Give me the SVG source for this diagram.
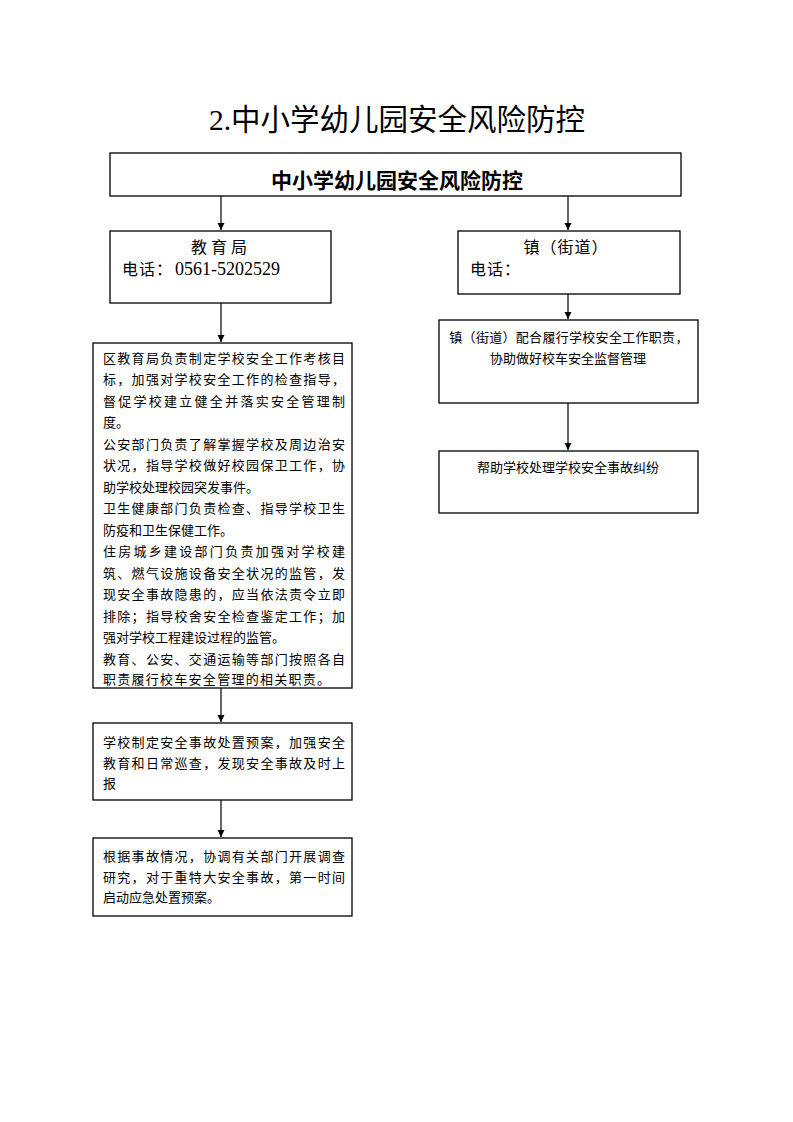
<svg xmlns="http://www.w3.org/2000/svg" width="793" height="1122" viewBox="0 0 793 1122">
<style>
.box{fill:#fff;stroke:#000;stroke-width:1.3}
.t{font-family:"Liberation Serif","Noto Sans CJK SC",serif;fill:#000}
.s{font-size:13px}
.m{font-size:16px}
.c{text-anchor:middle}
.conn line{stroke:#000;stroke-width:1.2}
</style>
<defs>
<marker id="ah" markerWidth="8" markerHeight="9" refX="7" refY="4" orient="auto" markerUnits="userSpaceOnUse">
<path d="M0,0.5 L7,4 L0,7.5 Z" fill="#000"/>
</marker>
</defs>
<rect width="793" height="1122" fill="#fff"/>
<text class="t c" x="397" y="130" font-size="29.5">2.中小学幼儿园安全风险防控</text>

<g class="conn">
<line x1="221" y1="196" x2="221" y2="230" marker-end="url(#ah)"/>
<line x1="568" y1="196" x2="568" y2="230" marker-end="url(#ah)"/>
<line x1="221" y1="303" x2="221" y2="342" marker-end="url(#ah)"/>
<line x1="568" y1="286" x2="568" y2="319" marker-end="url(#ah)"/>
<line x1="221" y1="688" x2="221" y2="722" marker-end="url(#ah)"/>
<line x1="221" y1="800" x2="221" y2="837" marker-end="url(#ah)"/>
<line x1="568" y1="403" x2="568" y2="450" marker-end="url(#ah)"/>
</g>

<g id="top">
<rect class="box" x="110" y="153" width="571" height="43"/>
<text class="c" x="397" y="188" font-size="21" font-weight="bold" font-family="'Noto Sans CJK SC',sans-serif">中小学幼儿园安全风险防控</text>
</g>

<g id="edu">
<rect class="box" x="110" y="231" width="221" height="72"/>
<text class="t m c" x="221" y="253" letter-spacing="4">教育局</text>
<text class="t m" x="122" y="275"><tspan letter-spacing="1">电话：</tspan><tspan x="175" font-size="18">0561-5202529</tspan></text>
</g>

<g id="town">
<rect class="box" x="458" y="231" width="222" height="63"/>
<text class="t m c" x="566" y="253" letter-spacing="1">镇（街道）</text>
<text class="t m" x="470" y="275" letter-spacing="1">电话：</text>
</g>

<g id="edu-duty">
<rect class="box" x="93" y="343" width="259" height="345"/>
<g class="t s">
<text x="103" y="362.5" textLength="242" lengthAdjust="spacing">区教育局负责制定学校安全工作考核目</text>
<text x="103" y="384" textLength="242" lengthAdjust="spacing">标，加强对学校安全工作的检查指导，</text>
<text x="103" y="405.5" textLength="242" lengthAdjust="spacing">督促学校建立健全并落实安全管理制</text>
<text x="103" y="427">度。</text>
<text x="103" y="448.5" textLength="242" lengthAdjust="spacing">公安部门负责了解掌握学校及周边治安</text>
<text x="103" y="470" textLength="242" lengthAdjust="spacing">状况，指导学校做好校园保卫工作，协</text>
<text x="103" y="491.5">助学校处理校园突发事件。</text>
<text x="103" y="513" textLength="242" lengthAdjust="spacing">卫生健康部门负责检查、指导学校卫生</text>
<text x="103" y="534.5">防疫和卫生保健工作。</text>
<text x="103" y="556" textLength="242" lengthAdjust="spacing">住房城乡建设部门负责加强对学校建</text>
<text x="103" y="577.5" textLength="242" lengthAdjust="spacing">筑、燃气设施设备安全状况的监管，发</text>
<text x="103" y="599" textLength="242" lengthAdjust="spacing">现安全事故隐患的，应当依法责令立即</text>
<text x="103" y="620.5" textLength="242" lengthAdjust="spacing">排除；指导校舍安全检查鉴定工作；加</text>
<text x="103" y="642">强对学校工程建设过程的监管。</text>
<text x="103" y="663.5" textLength="242" lengthAdjust="spacing">教育、公安、交通运输等部门按照各自</text>
<text x="103" y="684" textLength="227" lengthAdjust="spacing">职责履行校车安全管理的相关职责。</text>
</g>
</g>

<g id="plan">
<rect class="box" x="93" y="723" width="259" height="77"/>
<g class="t s">
<text x="103" y="747" textLength="242" lengthAdjust="spacing">学校制定安全事故处置预案，加强安全</text>
<text x="103" y="768" textLength="242" lengthAdjust="spacing">教育和日常巡查，发现安全事故及时上</text>
<text x="103" y="788">报</text>
</g>
</g>

<g id="respond">
<rect class="box" x="93" y="838" width="259" height="78"/>
<g class="t s">
<text x="103" y="861" textLength="242" lengthAdjust="spacing">根据事故情况，协调有关部门开展调查</text>
<text x="103" y="882" textLength="242" lengthAdjust="spacing">研究，对于重特大安全事故，第一时间</text>
<text x="103" y="902">启动应急处置预案。</text>
</g>
</g>

<g id="town-duty">
<rect class="box" x="439" y="320" width="259" height="83"/>
<text class="t s c" x="569" y="342" letter-spacing="0.3">镇（街道）配合履行学校安全工作职责，</text>
<text class="t s c" x="568" y="363">协助做好校车安全监督管理</text>
</g>

<g id="town-help">
<rect class="box" x="439" y="451" width="259" height="62"/>
<text class="t s c" x="568" y="472">帮助学校处理学校安全事故纠纷</text>
</g>
</svg>
